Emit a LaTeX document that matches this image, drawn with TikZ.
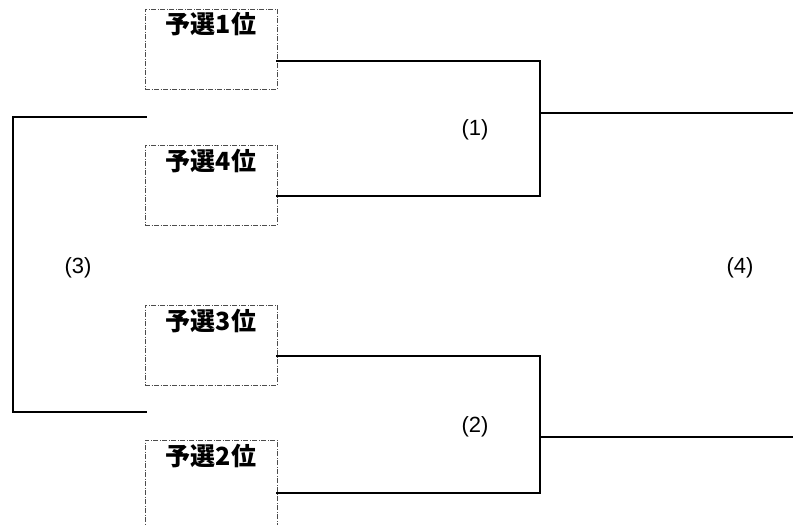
\documentclass[tikz,border=0pt]{standalone}
\usepackage{fontspec}
\newfontfamily\jp{Noto Sans CJK JP}
\newfontfamily\lab{Liberation Sans}
\begin{document}
\begin{tikzpicture}[x=1pt,y=-1pt,
  seed/.style={draw=black!70,line width=0.8pt,dash pattern=on 5pt off 1.5pt on 1pt off 1.5pt,minimum width=132pt,minimum height=80pt,inner sep=0pt},
  seedtext/.style={font=\jp\bfseries\fontsize{25}{25}\selectfont,inner sep=0pt},
  br/.style={line width=2.5pt,line cap=rect},
  lab/.style={font=\lab\fontsize{22}{22}\selectfont,inner sep=0pt}]
\useasboundingbox (0,0) rectangle (793,525);
% seed boxes
\node[seed] (b1) at (211,49) {};
\node[seed] (b4) at (211,185) {};
\node[seed] (b3) at (211,345) {};
\node[seed,minimum height=100pt] (b2) at (211,490) {};
\node[seedtext] (t1) at (211,24) {予選1位};
\node[seedtext] (t4) at (211,161) {予選4位};
\node[seedtext] (t3) at (211,321) {予選3位};
\node[seedtext] (t2) at (211,456) {予選2位};
% coordinates
\coordinate (p1) at (277,61);
\coordinate (p4) at (277,196);
\coordinate (p3) at (277,356);
\coordinate (p2) at (277,493);
\coordinate (j1) at (540,113);
\coordinate (j2) at (540,437);
\coordinate (o1) at (793,113);
\coordinate (o2) at (793,437);
\coordinate (l1) at (146,117);
\coordinate (l2) at (146,412);
% bracket lines
\draw[br] (p1) -- (540,61) -- (540,196) -- (p4);
\draw[br] (j1) -- (o1);
\draw[br] (p3) -- (540,356) -- (540,493) -- (p2);
\draw[br] (j2) -- (o2);
\draw[br] (l1) -- (13,117) -- (13,412) -- (l2);
% labels
\node[lab] (n1) at (475,130) {(1)};
\node[lab] (n2) at (475,427) {(2)};
\node[lab] (n3) at (78,268) {(3)};
\node[lab] (n4) at (740,268) {(4)};
\end{tikzpicture}
\end{document}
